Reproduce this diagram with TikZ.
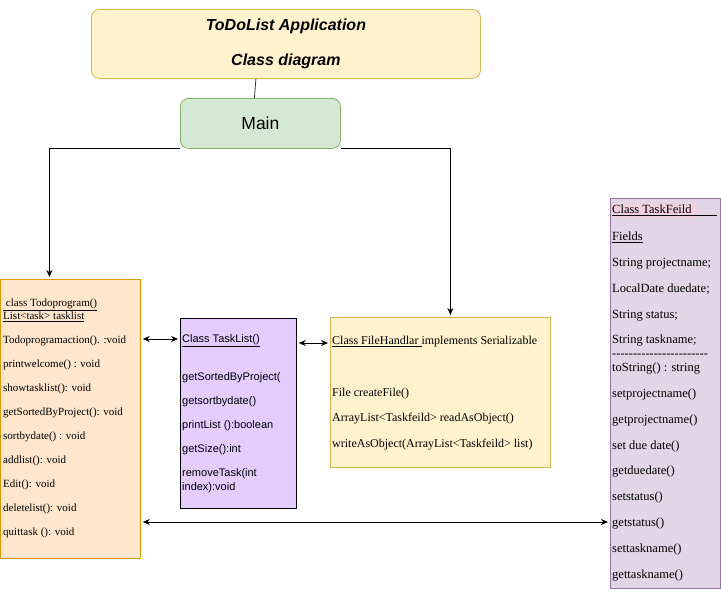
\documentclass[tikz,border=0pt]{standalone}
\usepackage{fontspec}
\setmainfont{Liberation Serif}
\setsansfont{Liberation Sans}
\usepackage{tikz}
\usetikzlibrary{arrows.meta,positioning}
\definecolor{titlefill}{HTML}{FFF2CC}
\definecolor{titleline}{HTML}{D6B656}
\definecolor{mainfill}{HTML}{D5E8D4}
\definecolor{mainline}{HTML}{82B366}
\definecolor{todofill}{HTML}{FFE6CC}
\definecolor{todoline}{HTML}{D79B00}
\definecolor{listfill}{HTML}{E5CCFF}
\definecolor{feildfill}{HTML}{E1D5E7}
\definecolor{feildline}{HTML}{9673A6}
\definecolor{markfill}{HTML}{F2D0E0}

\begin{document}
\begin{tikzpicture}[x=1pt,y=-1pt,>={Stealth[length=7pt,width=6pt]},
	box/.style={draw,anchor=north west,inner sep=0pt,line width=0.8pt},
	txt/.style={anchor=mid west,inner sep=0pt,font=\fontsize{11}{13}\selectfont},
	conn/.style={line width=0.8pt}] 
\useasboundingbox (0,0) rectangle (721,595);

	\node[box, rounded corners=8pt, fill=titlefill, draw=titleline, minimum width=389pt, minimum height=69pt, align=center, font=\sffamily\bfseries\itshape\fontsize{16}{19}\selectfont] (title) at (91,9) {ToDoList Application\\[16pt]Class diagram};
	\node[box, rounded corners=8pt, fill=mainfill, draw=mainline, minimum width=160pt, minimum height=50pt, font=\sffamily\fontsize{17.5}{21}\selectfont] (main) at (180,98) {Main};

	\node[box, fill=todofill, draw=todoline, minimum width=140pt, minimum height=279pt] (todo) at (0,279) {};
	\node[box, fill=listfill, draw=black, minimum width=116pt, minimum height=190pt] (tasklist) at (180,318) {};
	\node[box, fill=titlefill, draw=titleline, minimum width=220pt, minimum height=150pt] (filehandlar) at (330,317) {};
	\node[box, fill=feildfill, draw=feildline, minimum width=110pt, minimum height=390pt] (taskfeild) at (610,198) {};

	\foreach \y/\t in {304/{\underline{\ class Todoprogram()}}, 317/{\underline{List<task> tasklist}},
		341/{Todoprogramaction(). :void}, 365/{printwelcome() : void}, 389/{showtasklist(): void},
		413/{getSortedByProject(): void}, 437/{sortbydate() : void}, 461/{addlist(): void},
		485/{Edit(): void}, 509/{deletelist(): void}, 533/{quittask (): void}}
		\node[txt] (todo-\y) at (3,\y) {\t};

	\foreach \y/\t in {340/{\underline{Class TaskList()}}, 378/{getSortedByProject(}, 402/{getsortbydate()},
		426/{printList ():boolean}, 450/{getSize():int}, 474/{removeTask(int}, 488/{index):void}}
		\node[txt, font=\sffamily\fontsize{11}{13}\selectfont] (tasklist-\y) at (182,\y) {\t};

	\foreach \y/\t in {342/{\underline{Class FileHandlar\ }implements Serializable}, 394/{File createFile()},
		419/{ArrayList<Taskfeild> readAsObject()}, 445/{writeAsObject(ArrayList<Taskfeild> list)}}
		\node[txt, font=\fontsize{12}{14}\selectfont] (filehandlar-\y) at (332,\y) {\t};

	\fill[markfill] (612,204) rectangle (697,218);
	\foreach \y/\t in {211/{\underline{Class TaskFeild\hspace*{25pt}}}, 238/{\underline{Fields}},
		264/{String projectname;}, 290/{LocalDate duedate;}, 316/{String status;}, 341/{String taskname;},
		355/{\foreach \k in {1,...,23}{-\kern0pt}}, 369/{toString() : string}, 395/{setprojectname()},
		421/{getprojectname()}, 447/{set due date()}, 472/{getduedate()}, 498/{setstatus()},
		524/{getstatus()}, 550/{settaskname()}, 576/{gettaskname()}}
		\node[txt, font=\fontsize{12.5}{15}\selectfont] (taskfeild-\y) at (612,\y) {\t};

\draw[conn, draw=black!80] ([xshift=-30pt]title.south) -- ([xshift=-6pt]main.north);
\draw[conn, ->, shorten >=2pt] (main.south west) -| ([xshift=-21pt]todo.north);
\draw[conn, ->, shorten >=2pt] (main.south east) -| ([xshift=10pt]filehandlar.north);
\draw[conn, <->, shorten <=2pt, shorten >=2pt] (todo.east |- 0,339) -- (tasklist.west |- 0,339);
\draw[conn, <->, shorten <=2pt, shorten >=2pt] (tasklist.east |- 0,343) -- (filehandlar.west |- 0,343);
\draw[conn, <->, shorten <=2pt, shorten >=2pt] (todo.east |- 0,522) -- (taskfeild.west |- 0,522);
\end{tikzpicture}
\end{document}
